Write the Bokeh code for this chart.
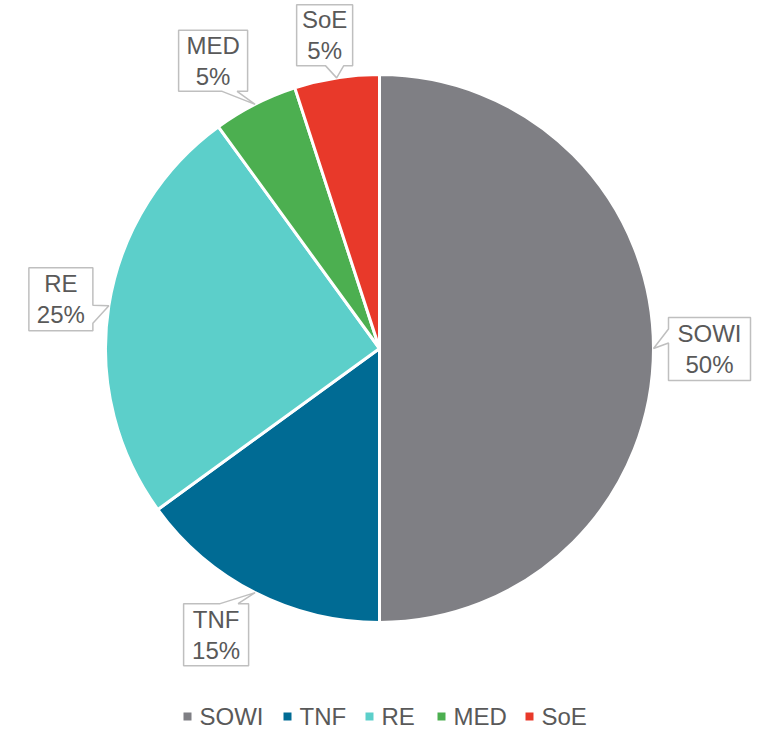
import math
from bokeh.plotting import figure
from bokeh.models import Range1d, ColumnDataSource
from bokeh.core.properties import value
from bokeh.embed import file_html
from bokeh.resources import INLINE

# ---- data ----
categories = ["SOWI", "TNF", "RE", "MED", "SoE"]
shares = [50, 15, 25, 5, 5]
colors = ["#7f7f84", "#006b94", "#5ccfca", "#4caf50", "#e8392a"]

# ---- layout (page pixel space) ----
W, H = 765, 731
CX, CY, R = 379, 348, 274
FONT = "Liberation Sans"
TXT = "#595959"
# callout box placement relative to the slice's pointer tip: dx, dy, w, h, side, base1, base2
callout_layout = [
    (56, 0.5, 82, 63, "left", -20, -6),
    (-39, 42, 65, 62, "top", 4, 22),
    (-48, -6.5, 64, 63, "right", 6, 24),
    (-42, -43.5, 69, 61, "bottom", 9, 24),
    (-12, -42.5, 56, 61, "bottom", 1, 19),
]
legend_x = [183, 283, 365, 437, 525]
legend_y = 716


def Y(py):
    return H - py


p = figure(width=W, height=H, x_range=Range1d(0, W), y_range=Range1d(0, H),
           output_backend="svg", toolbar_location=None, min_border=0,
           outline_line_color=None, background_fill_color="white",
           border_fill_color="white")
p.axis.visible = False
p.grid.visible = False

total = float(sum(shares))
starts, ends, tips = [], [], []
cum = 0.0
for v in shares:
    f0 = cum / total
    f1 = (cum + v) / total
    starts.append(math.pi / 2 - 2 * math.pi * f1)
    ends.append(math.pi / 2 - 2 * math.pi * f0)
    fm = (f0 + f1) / 2
    th = 2 * math.pi * fm
    tips.append((CX + R * math.sin(th), CY - R * math.cos(th)))
    cum += v

src = ColumnDataSource(dict(cat=categories, start=starts, end=ends, color=colors))
p.wedge(x=CX, y=Y(CY), radius=R, start_angle="start", end_angle="end",
        direction="anticlock", fill_color="color", line_color="white",
        line_width=3, source=src)

# callouts
xs, ys, lx, ly, ltxt = [], [], [], [], []
for (tx, ty), (dx, dy, w, h, side, b1, b2), cat, v in zip(tips, callout_layout, categories, shares):
    cx, cy = tx + dx, ty + dy
    l, r, t, b = cx - w / 2, cx + w / 2, cy - h / 2, cy + h / 2
    pts = [(l, t)]
    if side == "top":
        pts += [(cx + b1, t), (tx, ty), (cx + b2, t)]
    pts.append((r, t))
    if side == "right":
        pts += [(r, cy + b1), (tx, ty), (r, cy + b2)]
    pts.append((r, b))
    if side == "bottom":
        pts += [(cx + b2, b), (tx, ty), (cx + b1, b)]
    pts.append((l, b))
    if side == "left":
        pts += [(l, cy + b2), (tx, ty), (l, cy + b1)]
    xs.append([q[0] for q in pts])
    ys.append([Y(q[1]) for q in pts])
    lx.append(cx)
    ly.append(Y(cy))
    ltxt.append(f"{cat}\n{v / total * 100:.0f}%")

p.patches(xs=xs, ys=ys, fill_color="white", line_color="#bfbfbf", line_width=1.5)
p.text(x=lx, y=ly, text=ltxt, text_align="center", text_baseline="middle",
       text_font=value(FONT), text_font_size="24px", text_color=TXT,
       text_line_height=1.15)

# legend
p.rect(x=[x + 4 for x in legend_x], y=[Y(legend_y)] * len(legend_x), width=8, height=8,
       fill_color=colors, line_color=None)
p.text(x=[x + 16 for x in legend_x], y=[Y(legend_y)] * len(legend_x), text=categories,
       text_align="left", text_baseline="middle", text_font=value(FONT),
       text_font_size="24px", text_color=TXT)

open("out.html", "w").write(file_html(p, INLINE))
